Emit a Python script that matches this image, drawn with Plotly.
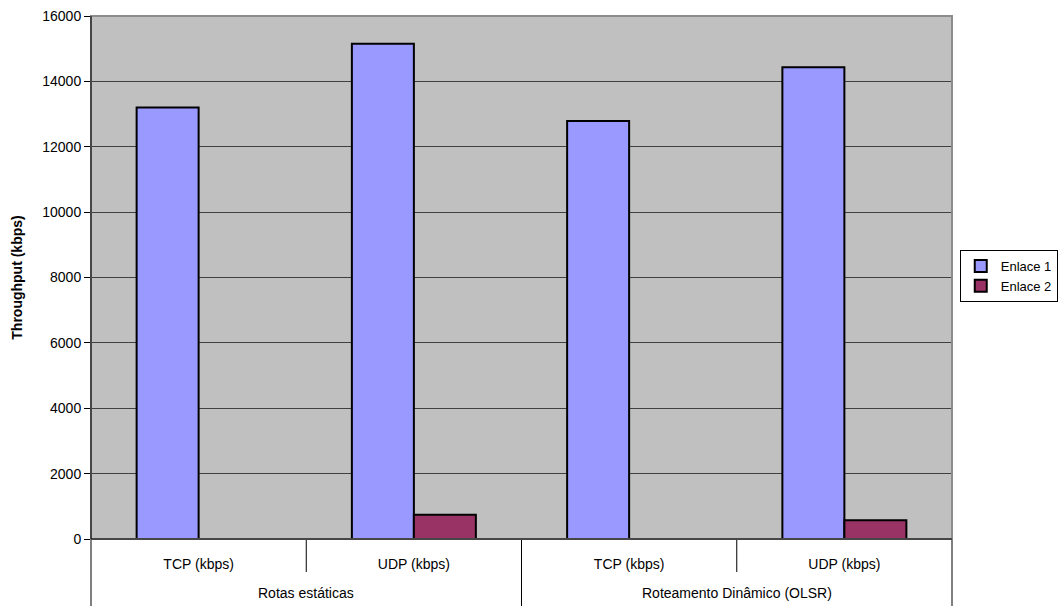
import plotly.graph_objects as go

outer = ["Rotas estáticas", "Rotas estáticas", "Roteamento Dinâmico (OLSR)", "Roteamento Dinâmico (OLSR)"]
inner = ["TCP (kbps)", "UDP (kbps)", "TCP (kbps)", "UDP (kbps)"]
enlace1 = [13200, 15150, 12790, 14430]
enlace2 = [None, 740, None, 570]

keys = [f"{o} | {i}" for o, i in zip(outer, inner)]
n = len(keys)

PLOT_H = 606 - 16 - 67  # plot height in px

fig = go.Figure()
fig.add_trace(go.Bar(x=keys, y=enlace1, name="Enlace 1",
                     marker=dict(color="#9999FF", line=dict(color="black", width=2))))
fig.add_trace(go.Bar(x=keys, y=enlace2, name="Enlace 2",
                     marker=dict(color="#993366", line=dict(color="black", width=2))))

fig.update_layout(
    width=1062, height=606,
    margin=dict(l=91, r=110, t=16, b=67, autoexpand=False),
    paper_bgcolor="white", plot_bgcolor="#C0C0C0",
    barmode="group", bargap=0.424, bargroupgap=0,
    font=dict(family="Arial, Liberation Sans, sans-serif", size=14, color="black"),
    legend=dict(x=1.009, y=0.5526, xanchor="left", yanchor="top",
                bordercolor="black", borderwidth=1, bgcolor="white",
                font=dict(size=13), itemwidth=30, tracegroupgap=0),
    showlegend=True,
)
fig.update_yaxes(range=[0, 16000], dtick=2000, tickformat="d", showgrid=True,
                 gridcolor="#404040", gridwidth=1,
                 ticks="outside", ticklen=6, tickcolor="black", showline=True, linecolor="black",
                 linewidth=1, zeroline=False,
                 title=dict(text="<b>Throughput (kbps)</b>", font=dict(size=14), standoff=16),
                 tickfont=dict(size=14))
fig.update_xaxes(type="category", categoryorder="array", categoryarray=keys,
                 range=[-0.5, n - 0.5],
                 tickvals=keys, ticktext=inner,
                 showline=True, linecolor="black", linewidth=1,
                 ticks="", ticklabelstandoff=12, tickfont=dict(size=14))

# separators between categories (short) and groups (long)
short_len = 33 / PLOT_H
long_len = 67 / PLOT_H
for k in range(n + 1):
    is_outer = k == 0 or k == n or outer[k] != outer[k - 1]
    xp = k / n
    fig.add_shape(type="line", xref="paper", yref="paper", x0=xp, x1=xp, y0=0,
                  y1=-(long_len if is_outer else short_len),
                  line=dict(color="black", width=1))

# outer group labels
start = 0
for k in range(1, n + 1):
    if k == n or outer[k] != outer[start]:
        fig.add_annotation(x=(start + k - 1) / 2, xref="x", y=-54 / PLOT_H, yref="paper",
                           text=outer[start], showarrow=False, yanchor="middle",
                           font=dict(size=14))
        start = k

fig.add_shape(type="rect", xref="paper", yref="paper", x0=0, x1=1, y0=0, y1=1,
              line=dict(color="#8c8c8c", width=2), layer="above")
fig.add_shape(type="line", xref="paper", yref="paper", x0=0, x1=0, y0=0, y1=1,
              line=dict(color="black", width=1), layer="above")
fig.add_shape(type="line", xref="paper", yref="paper", x0=0, x1=1, y0=0, y1=0,
              line=dict(color="black", width=1), layer="above")

fig.write_html("out.html", config={"displayModeBar": False},
               post_script="document.body.style.margin='0';")
